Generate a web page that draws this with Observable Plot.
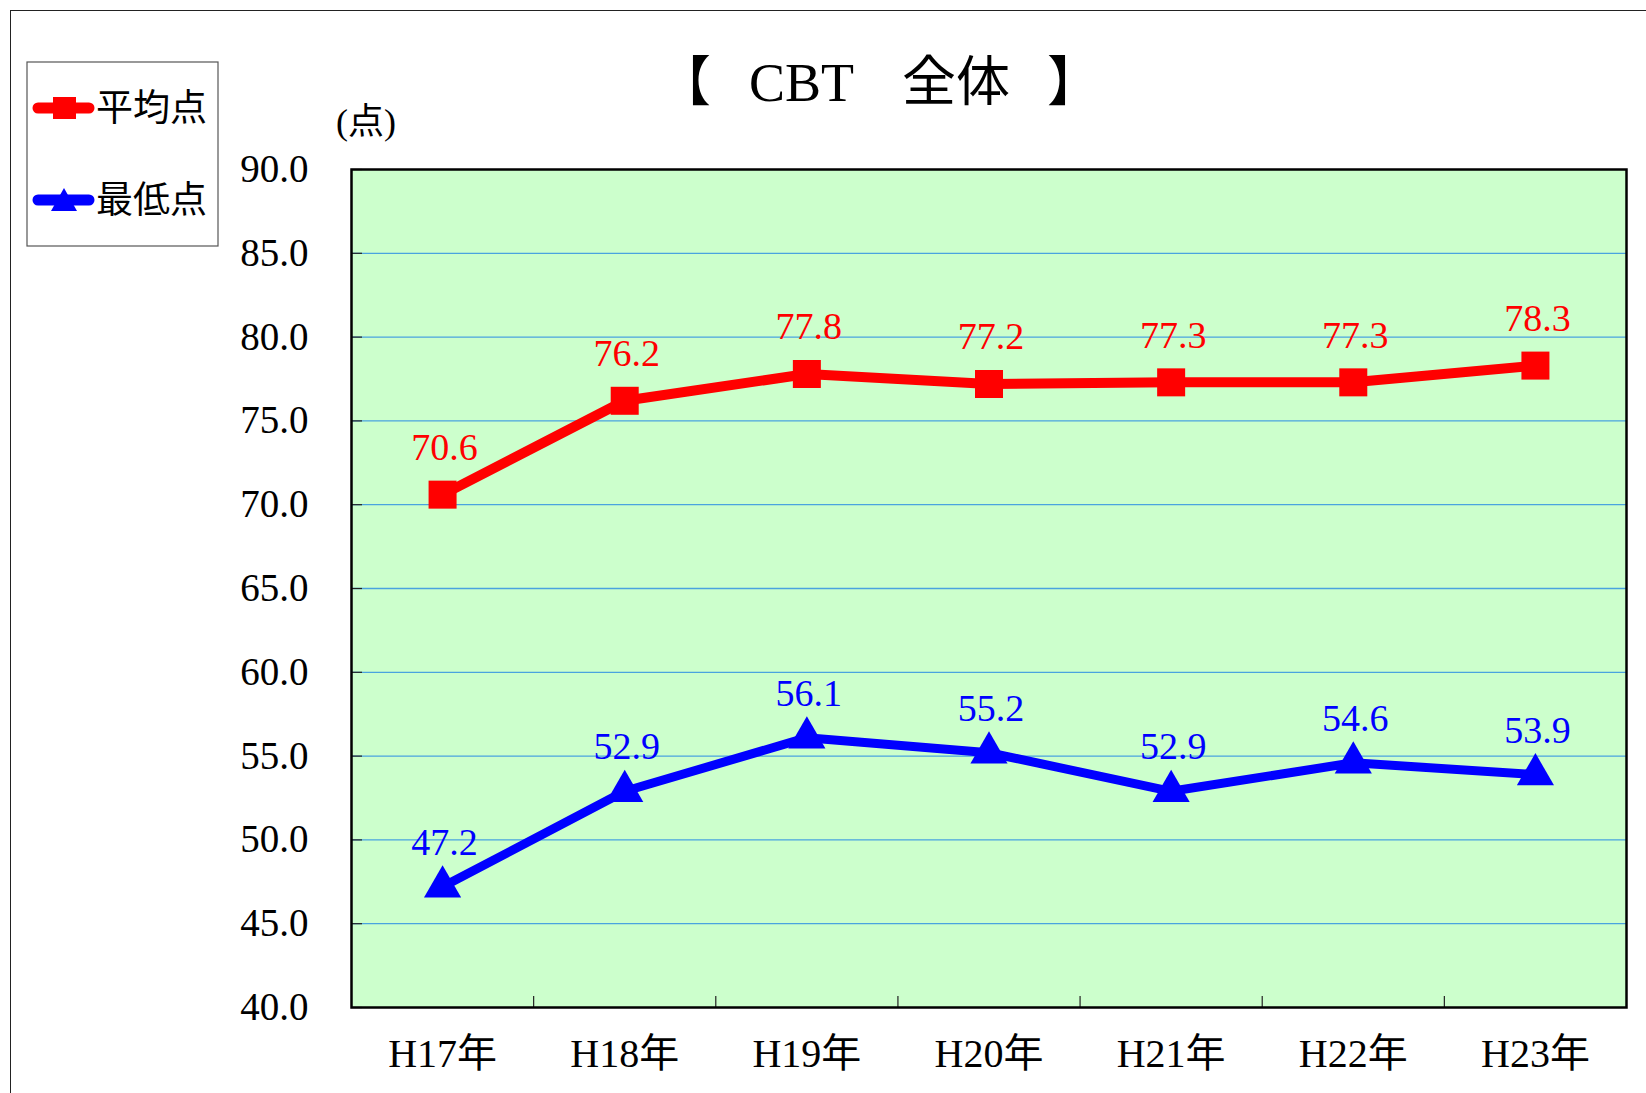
<!DOCTYPE html>
<html>
<head>
<meta charset="utf-8">
<script src="https://cdn.jsdelivr.net/npm/d3@7"></script>
<script src="https://cdn.jsdelivr.net/npm/@observablehq/plot@0.6"></script>
<style>
  html, body { margin: 0; padding: 0; background: #fff; overflow: hidden; }
  #wrap { position: relative; width: 1646px; height: 1093px; overflow: hidden; }
  #outer { position: absolute; left: 10px; top: 10px; width: 1700px; height: 1200px; border: 1.5px solid #222; box-sizing: border-box; }
  #chart, #overlay { position: absolute; left: 0; top: 0; }
</style>
</head>
<body>
<div id="wrap">
  <div id="outer"></div>
  <div id="chart"></div>
  <svg id="overlay" width="1646" height="260"></svg>
</div>
<script>
const years = ["H17年", "H18年", "H19年", "H20年", "H21年", "H22年", "H23年"];
const avgScores = [70.6, 76.2, 77.8, 77.2, 77.3, 77.3, 78.3];
const minScores = [47.2, 52.9, 56.1, 55.2, 52.9, 54.6, 53.9];
const yTicks = [40, 45, 50, 55, 60, 65, 70, 75, 80, 85, 90];
const seriesNames = ["平均点", "最低点"];
const titleParts = ["【", "CBT", "全体", "】"];
const unitText = "(点)";

const FONT = '"Liberation Serif", "Noto Sans CJK JP", serif';
const W = 1646, H = 1093;
const mTop = 169, mLeft = 351, mRight = 20, mBottom = 86;
const plotW = W - mLeft - mRight, plotH = H - mTop - mBottom;

const avgData = avgScores.map((v, i) => ({i, v}));
const minData = minScores.map((v, i) => ({i, v}));

const chart = Plot.plot({
  width: W, height: H,
  marginTop: mTop, marginLeft: mLeft, marginRight: mRight, marginBottom: mBottom,
  style: {fontFamily: FONT, background: "transparent", color: "#000", overflow: "visible"},
  x: {type: "linear", domain: [-0.5, years.length - 0.5]},
  y: {domain: [yTicks[0], yTicks[yTicks.length - 1]]},
  marks: [
    Plot.frame({fill: "#ccffcc"}),
    Plot.ruleY(yTicks.slice(1, -1), {y: d => d, stroke: "#4aa3df", strokeWidth: 1.3}),
    Plot.ruleY(yTicks, {y: d => d, insetRight: plotW - 11, stroke: "#222", strokeWidth: 1.2}),
    Plot.ruleX(d3.range(1, years.length), {x: d => d - 0.5, insetTop: plotH - 11, stroke: "#222", strokeWidth: 1.2}),
    Plot.frame({stroke: "#000", strokeWidth: 2.5}),
    Plot.axisY({ticks: yTicks, tickSize: 0, tickPadding: 43, tickFormat: d3.format(".1f"), fontSize: 39, label: null}),
    Plot.axisX({ticks: d3.range(years.length), tickSize: 0, tickPadding: 31, tickFormat: i => years[i], fontSize: 40, label: null}),
    Plot.line(avgData, {x: "i", y: "v", stroke: "#ff0000", strokeWidth: 10}),
    Plot.dot(avgData, {x: "i", y: "v", symbol: "square", r: 15.8, fill: "#ff0000"}),
    Plot.line(minData, {x: "i", y: "v", stroke: "#0000ff", strokeWidth: 9}),
    Plot.dot(minData, {x: "i", y: "v", symbol: "triangle", r: 13.8, fill: "#0000ff"}),
    Plot.text(avgData, {x: "i", y: "v", text: d => d.v.toFixed(1), dy: -47, dx: 2, fill: "#ff0000", fontSize: 38}),
    Plot.text(minData, {x: "i", y: "v", text: d => d.v.toFixed(1), dy: -44, dx: 2, fill: "#0000ff", fontSize: 38})
  ]
});
document.getElementById("chart").appendChild(chart);

// Title, unit label and legend
const ov = d3.select("#overlay").style("font-family", FONT);
const title = ov.append("text").attr("y", 101).attr("font-size", 54).attr("fill", "#000");
const titleX = [657, 749, 902, 1047];
titleParts.forEach((t, k) => title.append("tspan").attr("x", titleX[k]).text(t));
ov.append("text").attr("x", 336).attr("y", 134).attr("font-size", 36).attr("fill", "#000").text(unitText);

const lg = ov.append("g");
lg.append("rect").attr("x", 27).attr("y", 62).attr("width", 191).attr("height", 184)
  .attr("fill", "#fff").attr("stroke", "#555").attr("stroke-width", 1.2);
// red item
lg.append("line").attr("x1", 38).attr("x2", 89).attr("y1", 108).attr("y2", 108)
  .attr("stroke", "#ff0000").attr("stroke-width", 11).attr("stroke-linecap", "round");
lg.append("rect").attr("x", 53).attr("y", 97).attr("width", 23).attr("height", 22).attr("fill", "#ff0000");
lg.append("text").attr("x", 96).attr("y", 121).attr("font-size", 37).attr("fill", "#000").text(seriesNames[0]);
// blue item
lg.append("line").attr("x1", 38).attr("x2", 89).attr("y1", 200).attr("y2", 200)
  .attr("stroke", "#0000ff").attr("stroke-width", 11).attr("stroke-linecap", "round");
lg.append("polygon").attr("points", "64,188 77,211 51,211").attr("fill", "#0000ff");
lg.append("text").attr("x", 96).attr("y", 213).attr("font-size", 37).attr("fill", "#000").text(seriesNames[1]);
</script>
</body>
</html>
